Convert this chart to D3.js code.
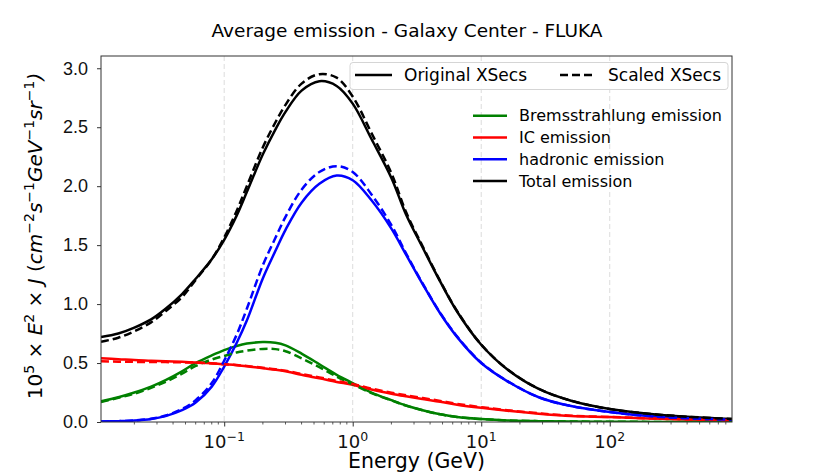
<!DOCTYPE html>
<html>
<head>
<meta charset="utf-8">
<script src="https://cdn.jsdelivr.net/npm/d3@7"></script>
<style>
  body { margin: 0; background: #fff; }
  svg { font-family: "DejaVu Sans", sans-serif; }
</style>
</head>
<body>
<svg id="chart" width="814" height="475"></svg>
<script>
// energy grid (GeV)
const energy = [0.011, 0.015, 0.02, 0.027, 0.035, 0.047, 0.06, 0.08, 0.1, 0.125, 0.15, 0.2, 0.25, 0.3, 0.4, 0.55, 0.75, 1.0, 1.4, 2.0, 2.6, 3.5, 4.8, 6.5, 10, 16, 28, 50, 100, 200, 400, 894];

// original cross sections
const bremsOrig  = [0.175, 0.21, 0.25, 0.30, 0.355, 0.43, 0.50, 0.565, 0.61, 0.645, 0.665, 0.678, 0.672, 0.65, 0.58, 0.49, 0.40, 0.33, 0.25, 0.185, 0.14, 0.10, 0.065, 0.042, 0.025, 0.013, 0.007, 0.004, 0.002, 0.001, 0.0005, 0.0002];
const icOrig     = [0.54, 0.533, 0.525, 0.52, 0.515, 0.51, 0.505, 0.498, 0.49, 0.482, 0.473, 0.455, 0.443, 0.43, 0.40, 0.37, 0.34, 0.315, 0.275, 0.24, 0.218, 0.195, 0.172, 0.147, 0.12, 0.095, 0.07, 0.05, 0.042, 0.03, 0.022, 0.015];
const hadrOrig   = [0.004, 0.007, 0.012, 0.025, 0.05, 0.10, 0.165, 0.30, 0.47, 0.67, 0.86, 1.22, 1.45, 1.63, 1.86, 2.02, 2.09, 2.05, 1.88, 1.64, 1.42, 1.17, 0.92, 0.72, 0.50, 0.345, 0.21, 0.135, 0.085, 0.05, 0.032, 0.02];
const totalOrig  = [0.72, 0.75, 0.80, 0.87, 0.96, 1.085, 1.215, 1.38, 1.545, 1.75, 1.95, 2.27, 2.48, 2.63, 2.81, 2.89, 2.85, 2.70, 2.40, 2.07, 1.76, 1.48, 1.19, 0.935, 0.655, 0.445, 0.28, 0.18, 0.11, 0.07, 0.045, 0.025];

// scaled cross sections
const bremsScaled = [0.17, 0.205, 0.24, 0.29, 0.34, 0.41, 0.475, 0.53, 0.56, 0.59, 0.605, 0.62, 0.618, 0.60, 0.54, 0.465, 0.385, 0.32, 0.245, 0.183, 0.139, 0.10, 0.065, 0.042, 0.025, 0.013, 0.007, 0.004, 0.002, 0.001, 0.0005, 0.0002];
const icScaled    = [0.515, 0.512, 0.51, 0.509, 0.508, 0.506, 0.503, 0.497, 0.49, 0.483, 0.475, 0.46, 0.448, 0.435, 0.407, 0.378, 0.348, 0.323, 0.284, 0.249, 0.226, 0.203, 0.179, 0.154, 0.126, 0.1, 0.074, 0.053, 0.043, 0.031, 0.022, 0.015];
const hadrScaled  = [0.004, 0.007, 0.013, 0.027, 0.055, 0.11, 0.185, 0.33, 0.52, 0.74, 0.96, 1.33, 1.56, 1.74, 1.97, 2.12, 2.17, 2.12, 1.93, 1.67, 1.43, 1.175, 0.925, 0.725, 0.503, 0.347, 0.21, 0.135, 0.085, 0.05, 0.032, 0.02];
const totalScaled = [0.68, 0.715, 0.77, 0.845, 0.94, 1.06, 1.205, 1.38, 1.565, 1.79, 2.00, 2.33, 2.54, 2.69, 2.87, 2.95, 2.92, 2.76, 2.45, 2.11, 1.78, 1.49, 1.195, 0.94, 0.657, 0.447, 0.282, 0.181, 0.11, 0.07, 0.045, 0.025];

const seriesNames = ['Bremsstrahlung emission', 'IC emission', 'hadronic emission', 'Total emission'];
const seriesColors = ['green', 'red', 'blue', 'black'];
const origSets = [bremsOrig, icOrig, hadrOrig, totalOrig];
const scaledSets = [bremsScaled, icScaled, hadrScaled, totalScaled];

const yTicks = [0, 0.5, 1.0, 1.5, 2.0, 2.5, 3.0];
const xMajor = [0.1, 1, 10, 100];
const xExp = ['\u22121', '0', '1', '2'];

const svgWidth = 814, svgHeight = 475;
const margin = {top: 56, right: 82, bottom: 53, left: 101};
const innerWidth = svgWidth - margin.left - margin.right;
const innerHeight = svgHeight - margin.top - margin.bottom;

const svg = d3.select('#chart');

const xScale = d3.scaleLog()
    .domain([0.011, 894])
    .range([0, innerWidth]);

const yScale = d3.scaleLinear()
    .domain([0, 3.104])
    .range([innerHeight, 0]);

svg.append('text')
    .attr('x', 407).attr('y', 37)
    .attr('text-anchor', 'middle')
    .style('font-size', '18.5px')
    .text('Average emission - Galaxy Center - FLUKA');

const g = svg.append('g').attr('transform', `translate(${margin.left}, ${margin.top})`);

svg.append('defs').append('clipPath').attr('id', 'clip')
    .append('rect').attr('width', innerWidth).attr('height', innerHeight);

// vertical grid
g.selectAll('.grid')
    .data(xMajor)
    .join('line')
    .attr('x1', d => xScale(d)).attr('x2', d => xScale(d))
    .attr('y1', 0).attr('y2', innerHeight)
    .attr('stroke', '#dcdcdc')
    .attr('stroke-width', 1)
    .attr('stroke-dasharray', '5,3');

const line = data => d3.line()
    .x((d, i) => xScale(energy[i]))
    .y(d => yScale(d))
    .curve(d3.curveCatmullRom.alpha(0.5))(data);

const plot = g.append('g').attr('clip-path', 'url(#clip)');

origSets.forEach((s, k) => {
    plot.append('path')
        .attr('d', line(s))
        .attr('fill', 'none')
        .attr('stroke', seriesColors[k])
        .attr('stroke-width', 2.5);
});
scaledSets.forEach((s, k) => {
    plot.append('path')
        .attr('d', line(s))
        .attr('fill', 'none')
        .attr('stroke', seriesColors[k])
        .attr('stroke-width', 2.5)
        .attr('stroke-dasharray', '8,4');
});

// frame
g.append('rect')
    .attr('width', innerWidth).attr('height', innerHeight)
    .attr('fill', 'none').attr('stroke', '#333').attr('stroke-width', 1);

// y axis
const yAxis = g.append('g')
    .call(d3.axisLeft(yScale).tickValues(yTicks).tickFormat(d3.format('.1f')).tickSize(4).tickPadding(9));
yAxis.select('.domain').remove();
yAxis.selectAll('text').style('font-size', '18px').attr('fill', '#111');
yAxis.selectAll('line').attr('stroke', '#333');

// x axis: minor ticks
const minor = [];
for (let p = -2; p <= 2; p++) {
    for (let m = 2; m <= 9; m++) {
        const v = m * Math.pow(10, p);
        if (v > 0.011 && v < 894) minor.push(v);
    }
}
g.append('g').selectAll('line')
    .data(minor)
    .join('line')
    .attr('x1', d => xScale(d)).attr('x2', d => xScale(d))
    .attr('y1', innerHeight).attr('y2', innerHeight + 2.5)
    .attr('stroke', '#333').attr('stroke-width', 0.8);

const xAxis = g.append('g')
    .attr('transform', `translate(0, ${innerHeight})`)
    .call(d3.axisBottom(xScale).tickValues(xMajor).tickFormat('').tickSize(4.5));
xAxis.select('.domain').remove();
xAxis.selectAll('line').attr('stroke', '#333');

const xLabels = g.append('g').selectAll('text')
    .data(xMajor)
    .join('text')
    .attr('x', d => xScale(d))
    .attr('y', innerHeight + 26)
    .attr('text-anchor', 'middle')
    .style('font-size', '18px')
    .attr('fill', '#111');
xLabels.append('tspan').text('10');
xLabels.append('tspan')
    .attr('dy', -7)
    .style('font-size', '12.5px')
    .text((d, i) => xExp[i]);

// axis labels
svg.append('text')
    .attr('x', margin.left + innerWidth / 2)
    .attr('y', 468)
    .attr('text-anchor', 'middle')
    .style('font-size', '20.5px')
    .text('Energy (GeV)');

const yl = svg.append('text')
    .attr('transform', 'translate(42, 236) rotate(-90)')
    .attr('text-anchor', 'middle')
    .style('font-size', '20px');
const ylParts = [
    ['10', 0, false], ['5', -8, false, true], [' \u00d7 ', 8, false], ['E', 0, true], ['2', -8, false, true],
    [' \u00d7 ', 8, false], ['J', 0, true], [' (', 0, false], ['cm', 0, true], ['\u22122', -8, false, true],
    ['s', 8, true], ['\u22121', -8, false, true], ['GeV', 8, true], ['\u22121', -8, false, true],
    ['sr', 8, true], ['\u22121', -8, false, true], [')', 8, true]
];
ylParts.forEach(p => {
    yl.append('tspan')
        .attr('dy', p[1])
        .style('font-style', p[2] ? 'italic' : 'normal')
        .style('font-size', p[3] ? '14px' : '20px')
        .text(p[0]);
});

// legend: line styles
const leg1 = svg.append('g');
leg1.append('rect')
    .attr('x', 350).attr('y', 62.5).attr('width', 378).attr('height', 27)
    .attr('rx', 3)
    .attr('fill', 'white').attr('fill-opacity', 0.85)
    .attr('stroke', '#d5d5d5');
leg1.append('line').attr('x1', 355).attr('x2', 392).attr('y1', 75).attr('y2', 75)
    .attr('stroke', 'black').attr('stroke-width', 2.5);
leg1.append('text').attr('x', 404).attr('y', 81).style('font-size', '17px').text('Original XSecs');
leg1.append('line').attr('x1', 560).attr('x2', 595).attr('y1', 75).attr('y2', 75)
    .attr('stroke', 'black').attr('stroke-width', 2.5).attr('stroke-dasharray', '8,4');
leg1.append('text').attr('x', 608).attr('y', 81).style('font-size', '17px').text('Scaled XSecs');

// legend: components
const leg2 = svg.append('g').selectAll('g')
    .data(seriesNames)
    .join('g')
    .attr('transform', (d, i) => `translate(0, ${115.7 + i * 21.8})`);
leg2.append('line')
    .attr('x1', 473).attr('x2', 507)
    .attr('stroke', (d, i) => seriesColors[i])
    .attr('stroke-width', 2.5);
leg2.append('text')
    .attr('x', 519).attr('y', 5.5)
    .style('font-size', '16px')
    .text(d => d);
</script>
</body>
</html>
